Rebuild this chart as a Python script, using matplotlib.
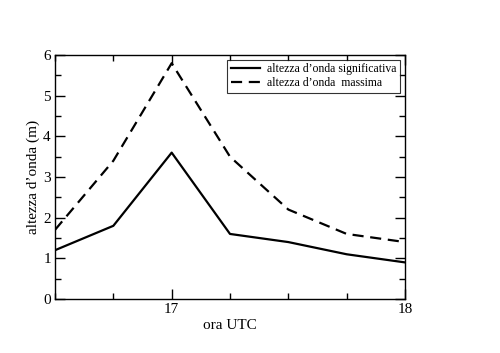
import numpy as np
import matplotlib.pyplot as plt
from matplotlib.ticker import MultipleLocator

plt.rcParams['font.family'] = ['Liberation Serif', 'DejaVu Serif']

# ora UTC (every 15 minutes)
ore = [16.5, 16.75, 17.0, 17.25, 17.5, 17.75, 18.0]
h_sig = [1.2, 1.8, 3.6, 1.6, 1.4, 1.1, 0.9]
h_max = [1.7, 3.4, 5.8, 3.5, 2.2, 1.6, 1.4]


def main():
    fig = plt.figure(figsize=(5.0, 3.53), dpi=100)
    ax = fig.add_axes([0.11, 0.153, 0.70, 0.691])

    ax.plot(ore, h_sig, color='black', lw=1.6, label='altezza d\u2019onda significativa')
    ax.plot(ore, h_max, color='black', lw=1.6, ls=(0, (5, 3)), label='altezza d\u2019onda  massima')

    ax.set_xlim(16.5, 18)
    ax.set_ylim(0, 6)
    ax.xaxis.set_major_locator(MultipleLocator(1))
    ax.xaxis.set_minor_locator(MultipleLocator(0.25))
    ax.yaxis.set_major_locator(MultipleLocator(1))
    ax.yaxis.set_minor_locator(MultipleLocator(0.5))
    ax.tick_params(which='both', direction='in', top=True, right=True, width=1.0)
    ax.tick_params(which='major', length=7, labelsize=11, pad=3)
    ax.tick_params(which='minor', length=4)
    for sp in ax.spines.values():
        sp.set_linewidth(1.0)

    ax.set_xlabel('ora UTC', fontsize=11, labelpad=2)
    ax.set_ylabel('altezza d\u2019onda (m)', fontsize=11, labelpad=2)

    leg = ax.legend(loc='upper right', fontsize=8.5, frameon=True, fancybox=False,
                    edgecolor='black', handlelength=2.5, borderpad=0.3, labelspacing=0.15,
                    borderaxespad=0.4, handletextpad=0.6)
    leg.get_frame().set_linewidth(0.8)

    fig.savefig('out.png', dpi=100)


if __name__ == '__main__':
    main()
